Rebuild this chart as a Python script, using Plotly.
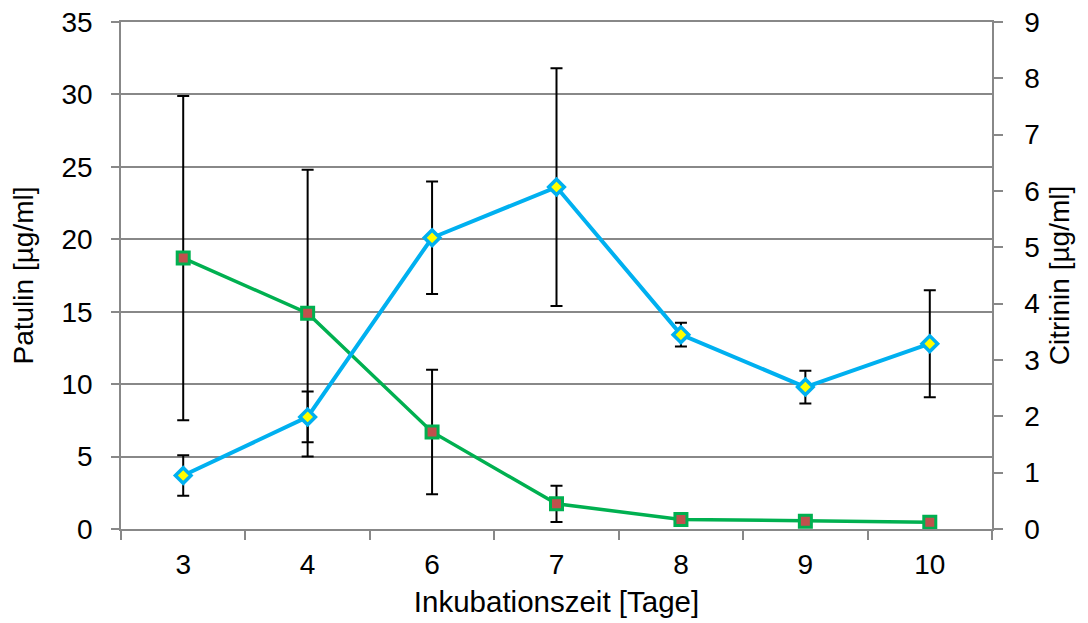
import plotly.graph_objects as go

days = ["3", "4", "6", "7", "8", "9", "10"]

patulin = [18.7, 14.9, 6.7, 1.74, 0.66, 0.54, 0.47]
patulin_err = [11.2, 9.9, 4.3, 1.25, 0, 0, 0]

citrinin = [0.95, 1.99, 5.17, 6.07, 3.45, 2.52, 3.29]
citrinin_err = [0.36, 0.45, 1.0, 2.11, 0.21, 0.29, 0.95]

left_ticks = [0, 5, 10, 15, 20, 25, 30, 35]
right_ticks = [0, 1, 2, 3, 4, 5, 6, 7, 8, 9]

FONT = "Liberation Sans, Arial, sans-serif"
GRID = "#888888"
FS = 28
TFS = 29.5

fig = go.Figure()

fig.add_trace(go.Scatter(
    x=days, y=patulin, name="Patulin", mode="lines+markers",
    line=dict(color="#00B050", width=3.5),
    marker=dict(symbol="square", size=12, color="#C0504D",
                line=dict(color="#00B050", width=3)),
    error_y=dict(type="data", array=patulin_err, visible=True,
                 color="black", thickness=2, width=6),
    yaxis="y",
))

fig.add_trace(go.Scatter(
    x=days, y=citrinin, name="Citrinin", mode="lines+markers",
    line=dict(color="#00B0F0", width=4),
    marker=dict(symbol="diamond", size=12, color="#FFFF00",
                line=dict(color="#00B0F0", width=3.5)),
    error_y=dict(type="data", array=citrinin_err, visible=True,
                 color="black", thickness=2, width=6),
    yaxis="y2",
))

fig.update_layout(
    width=1080, height=615,
    margin=dict(l=113, r=96, t=14, b=94),
    paper_bgcolor="white", plot_bgcolor="white",
    showlegend=False,
    font=dict(family=FONT, size=FS, color="black"),
    xaxis=dict(
        type="category", range=[-0.5, 6.5], automargin=False,
        showline=True, mirror=True, linecolor=GRID, linewidth=1.5,
        ticks="outside", tickson="boundaries", ticklen=9, tickcolor=GRID, tickwidth=1.5,
        showgrid=False, zeroline=False,
        tickfont=dict(size=FS),
        ticklabelstandoff=10,
        ticklabeloverflow="allow",
        title=dict(text="Inkubationszeit [Tage]", font=dict(size=TFS), standoff=12),
    ),
    yaxis=dict(
        range=[0, 35], tickvals=left_ticks, automargin=False,
        showline=True, linecolor=GRID, linewidth=1.5,
        ticks="outside", ticklen=8, tickcolor=GRID, tickwidth=1.5,
        showgrid=True, gridcolor=GRID, gridwidth=1.5,
        zeroline=False,
        tickfont=dict(size=FS),
        ticklabelstandoff=13,
        ticklabeloverflow="allow",
        title=dict(text="Patulin [µg/ml]", font=dict(size=FS), standoff=25),
    ),
    yaxis2=dict(
        range=[0, 9], tickvals=right_ticks, automargin=False,
        overlaying="y", side="right",
        showline=True, linecolor=GRID, linewidth=1.5,
        ticks="outside", ticklen=9, tickcolor=GRID, tickwidth=1.5,
        showgrid=False, zeroline=False,
        tickfont=dict(size=FS),
        ticklabelstandoff=16,
        ticklabeloverflow="allow",
        title=dict(text="Citrinin [µg/ml]", font=dict(size=FS), standoff=10),
    ),
)

fig.write_html("out.html")
